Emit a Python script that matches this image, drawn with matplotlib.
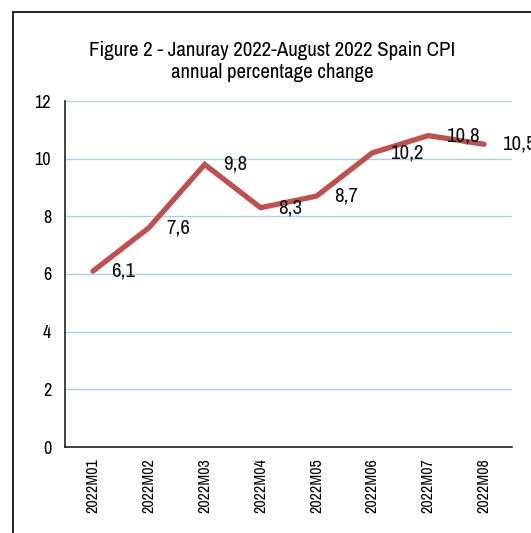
import matplotlib.pyplot as plt
from matplotlib import font_manager
from matplotlib.patches import Rectangle

months = ['2022M01', '2022M02', '2022M03', '2022M04',
          '2022M05', '2022M06', '2022M07', '2022M08']
cpi = [6.1, 7.6, 9.8, 8.3, 8.7, 10.2, 10.8, 10.5]
labels = ['6,1', '7,6', '9,8', '8,3', '8,7', '10,2', '10,8', '10,5']
yticks = [0, 2, 4, 6, 8, 10, 12]

# narrow font like the original (Arial Narrow), first one found
names = {f.name for f in font_manager.fontManager.ttflist}
fam = 'Liberation Sans'
for c in ['Liberation Sans Narrow', 'Arial Narrow', 'Archivo Narrow',
          'PT Sans Narrow', 'Roboto Condensed', 'Open Sans Condensed']:
    if c in names:
        fam = c
        break
plt.rcParams['font.family'] = [fam, 'DejaVu Sans']

fig = plt.figure(figsize=(5.31, 5.33), dpi=100)
ax = fig.add_axes([65/531, 1-447/533, (512-65)/531, (447-101)/533])

x = list(range(len(months)))
ax.plot(x, cpi, color='#C0504D', lw=3.8, solid_capstyle='round', solid_joinstyle='miter', zorder=3)
for xi, v, s in zip(x, cpi, labels):
    ax.annotate(s, (xi, v), xytext=(13, 0), textcoords='offset points',
                ha='left', va='center', fontsize=15, color='#111111', annotation_clip=False)

ax.set_xlim(-0.5, len(months) - 0.5)
ax.set_ylim(0, 12)
ax.set_yticks(yticks)
ax.set_xticks(x)
ax.set_xticklabels(months, rotation=90, fontsize=11.5)
ax.tick_params(axis='y', labelsize=13, length=0, pad=10)
ax.tick_params(axis='x', length=0, pad=8)
ax.grid(axis='y', color='#A9CFF5', lw=1)
ax.set_axisbelow(True)
for s in ['top', 'right']:
    ax.spines[s].set_visible(False)
for s in ['left', 'bottom']:
    ax.spines[s].set_color('#222222')
    ax.spines[s].set_linewidth(1.2)

fig.text(272/531, 1-50/533, 'Figure 2 - Januray 2022-August 2022 Spain CPI',
         ha='center', va='center', fontsize=15)
fig.text(272/531, 1-72/533, 'annual percentage change',
         ha='center', va='center', fontsize=15)

fig.patches.append(Rectangle((13/531, -0.2), 1.2, 1 - 12/533 + 0.2,
                             transform=fig.transFigure, fill=False,
                             edgecolor='black', lw=1.2, clip_on=False))

fig.savefig('out.png', dpi=100)
